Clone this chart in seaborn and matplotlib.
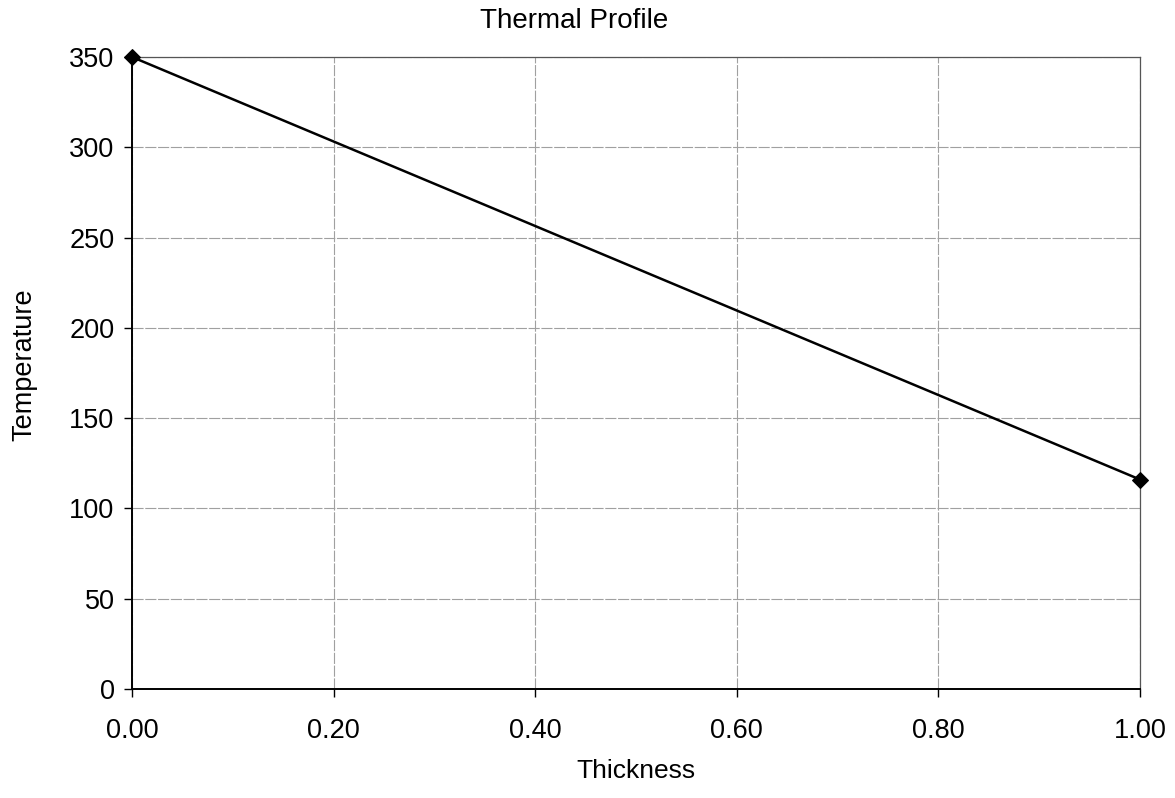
import matplotlib
matplotlib.use("Agg")
import seaborn as sns
import matplotlib.pyplot as plt
from matplotlib.ticker import FormatStrFormatter, MultipleLocator

# Data
thickness = [0.0, 1.0]
temperature = [350, 116]

sns.set_style("white")
plt.rcParams['font.family'] = ['Liberation Sans', 'DejaVu Sans']
plt.rcParams['text.color'] = "black"
plt.rcParams['axes.labelcolor'] = "black"
plt.rcParams['xtick.color'] = "black"
plt.rcParams['ytick.color'] = "black"

fig = plt.figure(figsize=(11.75, 7.98), dpi=100)
ax = fig.add_axes([0.1123, 0.1366, 0.8579, 0.792])

# Plotting
sns.lineplot(x=thickness, y=temperature, ax=ax, color="black", linewidth=1.8,
             marker="D", markersize=8, markeredgecolor="black", zorder=5, clip_on=False)

ax.set_xlim(0, 1)
ax.set_ylim(0, 350)
ax.xaxis.set_major_locator(MultipleLocator(0.2))
ax.yaxis.set_major_locator(MultipleLocator(50))
ax.xaxis.set_major_formatter(FormatStrFormatter("%.2f"))

# Grid and frame
ax.grid(True, color="#a0a0a0", linewidth=0.8, linestyle=(0, (10, 1.5)))
for side in ["left", "bottom"]:
    ax.spines[side].set_color("black")
    ax.spines[side].set_linewidth(1.4)
for side in ["top", "right"]:
    ax.spines[side].set_color("#555555")
    ax.spines[side].set_linewidth(0.9)
    ax.spines[side].set_linestyle((0, (3, 1)))

ax.tick_params(axis="both", direction="out", length=6, width=1, color="black",
               bottom=True, left=True)
ax.tick_params(axis="x", labelsize=19.5, pad=15)
ax.tick_params(axis="y", labelsize=19.5, pad=6.5)

# Labels and title
ax.set_xlabel("Thickness", fontsize=19, labelpad=11)
ax.set_ylabel("Temperature", fontsize=19.5, labelpad=23, y=0.513)
ax.set_title("Thermal Profile", fontsize=20, pad=21, x=0.4385)

plt.savefig("out.png", dpi=100)
